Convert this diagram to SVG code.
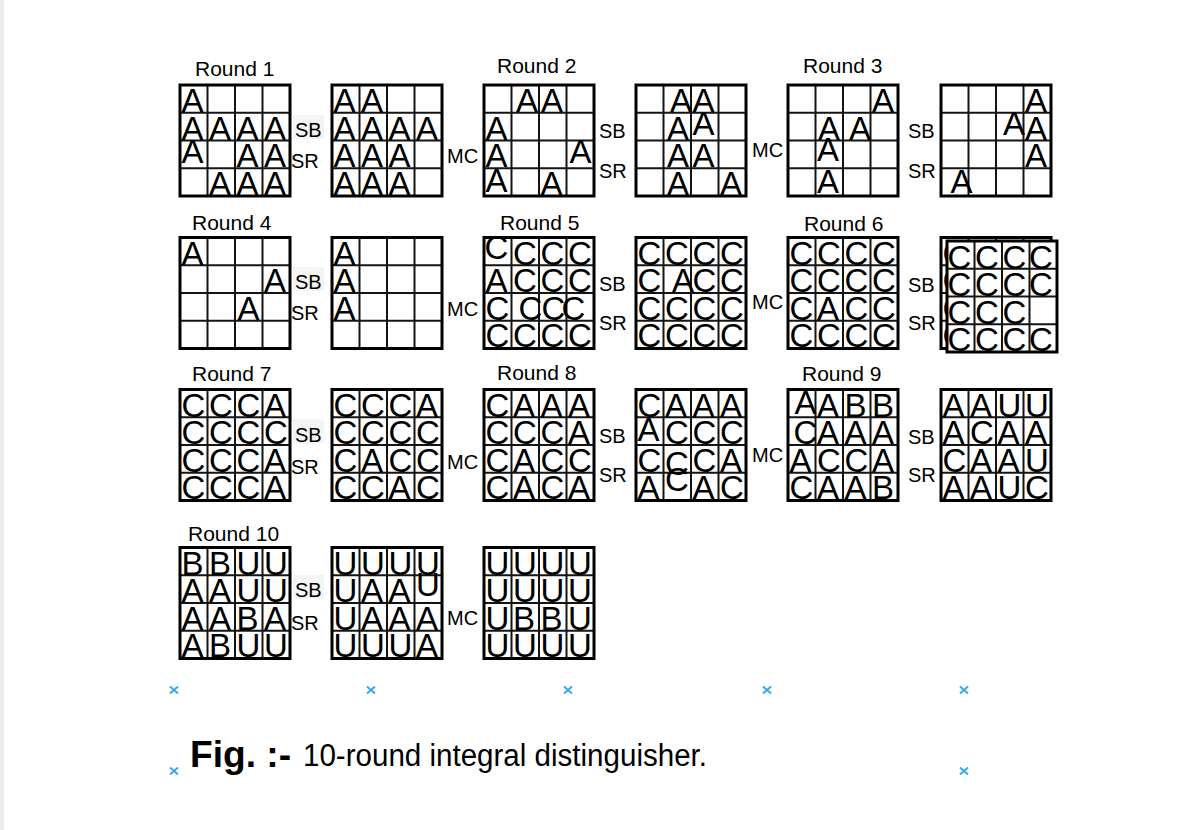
<svg xmlns="http://www.w3.org/2000/svg" xmlns:xlink="http://www.w3.org/1999/xlink" width="1190" height="830" viewBox="0 0 1190 830">
<style>
text{font-family:"Liberation Sans",Arial,sans-serif;fill:#000}
.L{font-size:33px}
.lab{font-size:20px}
.rnd{font-size:21px}
.sbbg{fill:#f4f4f4}
.mark{stroke:#35aae3;stroke-width:2;fill:none}
</style>
<defs>
<g id="grid">
<path d="M27.5 0V111M55 0V111M82.5 0V111M0 27.75H110M0 55.5H110M0 83.25H110" stroke="#141414" stroke-width="2" fill="none"/>
<rect x="0" y="0" width="110" height="111" fill="none" stroke="#000" stroke-width="3"/>
</g>
</defs>
<rect x="0" y="0" width="1190" height="830" fill="#fff"/>
<rect x="0" y="0" width="4" height="830" fill="#ececec"/>

<g id="round-labels">
<text class="rnd" x="195" y="76">Round 1</text>
<text class="rnd" x="497" y="73">Round 2</text>
<text class="rnd" x="803" y="73">Round 3</text>
<text class="rnd" x="192" y="230">Round 4</text>
<text class="rnd" x="500" y="230">Round 5</text>
<text class="rnd" x="804" y="231">Round 6</text>
<text class="rnd" x="192" y="381">Round 7</text>
<text class="rnd" x="497" y="380">Round 8</text>
<text class="rnd" x="802" y="381">Round 9</text>
<text class="rnd" x="188" y="541">Round 10</text>
</g>

<g id="connectors">
<rect class="sbbg" x="293" y="115" width="31" height="24"/>
<rect class="sbbg" x="293" y="267" width="31" height="24"/>
<rect class="sbbg" x="293" y="419.5" width="31" height="24"/>
<rect class="sbbg" x="293" y="575" width="31" height="24"/>
<text class="lab" x="295" y="137">SB</text><text class="lab" x="291" y="167.5">SR</text>
<text class="lab" x="447" y="163">MC</text>
<text class="lab" x="599" y="138">SB</text><text class="lab" x="599" y="178">SR</text>
<text class="lab" x="752" y="157">MC</text>
<text class="lab" x="908" y="138">SB</text><text class="lab" x="908" y="178">SR</text>

<text class="lab" x="295" y="289">SB</text><text class="lab" x="291" y="320">SR</text>
<text class="lab" x="447" y="315.5">MC</text>
<text class="lab" x="599" y="291">SB</text><text class="lab" x="599" y="330">SR</text>
<text class="lab" x="752" y="308.5">MC</text>
<text class="lab" x="908" y="291.5">SB</text><text class="lab" x="908" y="330">SR</text>

<text class="lab" x="295" y="441.5">SB</text><text class="lab" x="291" y="473.5">SR</text>
<text class="lab" x="447" y="468.5">MC</text>
<text class="lab" x="599" y="443">SB</text><text class="lab" x="599" y="481.5">SR</text>
<text class="lab" x="752" y="462">MC</text>
<text class="lab" x="908" y="443.5">SB</text><text class="lab" x="908" y="482">SR</text>

<text class="lab" x="295" y="597">SB</text><text class="lab" x="291" y="629.5">SR</text>
<text class="lab" x="447" y="624.5">MC</text>
</g>

<!-- Row 1 -->
<g id="r1g1" transform="translate(180,85)">
<use xlink:href="#grid"/>
<text class="L" x="1.5" y="27">A</text>
<text class="L" x="1.5" y="54.5">A</text><text class="L" x="29" y="54.5">A</text><text class="L" x="56.5" y="54.5">A</text><text class="L" x="84" y="54.5">A</text>
<text class="L" x="1.5" y="78">A</text><text class="L" x="56.5" y="82">A</text><text class="L" x="84" y="82">A</text>
<text class="L" x="29" y="109.5">A</text><text class="L" x="56.5" y="109.5">A</text><text class="L" x="84" y="109.5">A</text>
</g>
<g id="r1g2" transform="translate(332,85)">
<use xlink:href="#grid"/>
<text class="L" x="1.5" y="27">A</text><text class="L" x="29" y="27">A</text>
<text class="L" x="1.5" y="54.5">A</text><text class="L" x="29" y="54.5">A</text><text class="L" x="56.5" y="54.5">A</text><text class="L" x="84" y="54.5">A</text>
<text class="L" x="1.5" y="82">A</text><text class="L" x="29" y="82">A</text><text class="L" x="56.5" y="82">A</text>
<text class="L" x="1.5" y="109.5">A</text><text class="L" x="29" y="109.5">A</text><text class="L" x="56.5" y="109.5">A</text>
</g>
<g id="r1g3" transform="translate(484,85)">
<use xlink:href="#grid"/>
<text class="L" x="32" y="27">A</text><text class="L" x="57" y="27">A</text>
<text class="L" x="1.5" y="54.5">A</text>
<text class="L" x="1.5" y="82">A</text><text class="L" x="85.5" y="78">A</text>
<text class="L" x="1.5" y="106.5">A</text><text class="L" x="56.5" y="109.5">A</text>
</g>
<g id="r1g4" transform="translate(636,85)">
<use xlink:href="#grid"/>
<text class="L" x="34" y="27">A</text><text class="L" x="56.5" y="27">A</text>
<text class="L" x="31" y="54.5">A</text><text class="L" x="56.5" y="49.5">A</text>
<text class="L" x="31" y="82">A</text><text class="L" x="56.5" y="82">A</text>
<text class="L" x="31" y="109.5">A</text><text class="L" x="84" y="109.5">A</text>
</g>
<g id="r1g5" transform="translate(788,85)">
<use xlink:href="#grid"/>
<text class="L" x="84" y="27">A</text>
<text class="L" x="30" y="54.5">A</text><text class="L" x="61" y="54.5">A</text>
<text class="L" x="29" y="76">A</text>
<text class="L" x="29" y="107.5">A</text>
</g>
<g id="r1g6" transform="translate(941,85)">
<use xlink:href="#grid"/>
<text class="L" x="84" y="27">A</text>
<text class="L" x="62" y="49.5">A</text><text class="L" x="84" y="54.5">A</text>
<text class="L" x="84" y="82">A</text>
<text class="L" x="9.5" y="107.5">A</text>
</g>

<!-- Row 2 -->
<g id="r2g1" transform="translate(180,237.5)">
<use xlink:href="#grid"/>
<text class="L" x="1.5" y="27">A</text>
<text class="L" x="84" y="54.5">A</text>
<text class="L" x="57.5" y="82">A</text>
</g>
<g id="r2g2" transform="translate(332,237.5)">
<use xlink:href="#grid"/>
<text class="L" x="1.5" y="27">A</text>
<text class="L" x="1.5" y="54.5">A</text>
<text class="L" x="1.5" y="82">A</text>
</g>
<g id="r2g3" transform="translate(484,237.5)">
<use xlink:href="#grid"/>
<text class="L" x="0.5" y="21">C</text><text class="L" x="29" y="27">C</text><text class="L" x="56.5" y="27">C</text><text class="L" x="84" y="27">C</text>
<text class="L" x="1.5" y="54.5">A</text><text class="L" x="29" y="54.5">C</text><text class="L" x="56.5" y="54.5">C</text><text class="L" x="84" y="54.5">C</text>
<text class="L" x="1.5" y="82">C</text><text class="L" x="34.5" y="82">C</text><text class="L" x="57.5" y="82">C</text><text class="L" x="77.5" y="82">C</text>
<text class="L" x="1.5" y="109.5">C</text><text class="L" x="29" y="109.5">C</text><text class="L" x="56.5" y="109.5">C</text><text class="L" x="84" y="109.5">C</text>
</g>
<g id="r2g4" transform="translate(636,237.5)">
<use xlink:href="#grid"/>
<text class="L" x="1.5" y="27">C</text><text class="L" x="29" y="27">C</text><text class="L" x="56.5" y="27">C</text><text class="L" x="84" y="27">C</text>
<text class="L" x="1.5" y="54.5">C</text><text class="L" x="36" y="54.5">A</text><text class="L" x="56.5" y="54.5">C</text><text class="L" x="84" y="54.5">C</text>
<text class="L" x="1.5" y="82">C</text><text class="L" x="29" y="82">C</text><text class="L" x="56.5" y="82">C</text><text class="L" x="84" y="82">C</text>
<text class="L" x="1.5" y="109.5">C</text><text class="L" x="29" y="109.5">C</text><text class="L" x="56.5" y="109.5">C</text><text class="L" x="84" y="109.5">C</text>
</g>
<g id="r2g5" transform="translate(788,237.5)">
<use xlink:href="#grid"/>
<text class="L" x="1.5" y="27">C</text><text class="L" x="29" y="27">C</text><text class="L" x="56.5" y="27">C</text><text class="L" x="84" y="27">C</text>
<text class="L" x="1.5" y="54.5">C</text><text class="L" x="29" y="54.5">C</text><text class="L" x="56.5" y="54.5">C</text><text class="L" x="84" y="54.5">C</text>
<text class="L" x="1.5" y="82">C</text><text class="L" x="29" y="82">A</text><text class="L" x="56.5" y="82">C</text><text class="L" x="84" y="82">C</text>
<text class="L" x="1.5" y="109.5">C</text><text class="L" x="29" y="109.5">C</text><text class="L" x="56.5" y="109.5">C</text><text class="L" x="84" y="109.5">C</text>
</g>
<g id="r2g6">
<g id="r2g6-back" transform="translate(941,237.5)">
<use xlink:href="#grid"/>
<text class="L" x="1.5" y="27">C</text>
<text class="L" x="1.5" y="54.5">C</text>
<text class="L" x="1.5" y="82">C</text>
<text class="L" x="1.5" y="109.5">C</text>
</g>
<g id="r2g6-front" transform="translate(947,241)">
<rect x="0" y="0" width="109" height="111" fill="#fff"/>
<use xlink:href="#grid"/>
<text class="L" x="0.5" y="27.5">C</text><text class="L" x="28" y="27.5">C</text><text class="L" x="55.5" y="27.5">C</text><text class="L" x="82" y="27.5">C</text>
<text class="L" x="0.5" y="55">C</text><text class="L" x="28" y="55">C</text><text class="L" x="55.5" y="55">C</text><text class="L" x="82" y="55">C</text>
<text class="L" x="0.5" y="82.5">C</text><text class="L" x="28" y="82.5">C</text><text class="L" x="55.5" y="82.5">C</text>
<text class="L" x="0.5" y="110">C</text><text class="L" x="28" y="110">C</text><text class="L" x="55.5" y="110">C</text><text class="L" x="82" y="110">C</text>
</g>
</g>

<!-- Row 3 -->
<g id="r3g1" transform="translate(180,389.5)">
<use xlink:href="#grid"/>
<text class="L" x="1.5" y="27">C</text><text class="L" x="29" y="27">C</text><text class="L" x="56.5" y="27">C</text><text class="L" x="84" y="27">A</text>
<text class="L" x="1.5" y="54.5">C</text><text class="L" x="29" y="54.5">C</text><text class="L" x="56.5" y="54.5">C</text><text class="L" x="84" y="54.5">C</text>
<text class="L" x="1.5" y="82">C</text><text class="L" x="29" y="82">C</text><text class="L" x="56.5" y="82">C</text><text class="L" x="84" y="82">A</text>
<text class="L" x="1.5" y="109.5">C</text><text class="L" x="29" y="109.5">C</text><text class="L" x="56.5" y="109.5">C</text><text class="L" x="84" y="109.5">A</text>
</g>
<g id="r3g2" transform="translate(332,389.5)">
<use xlink:href="#grid"/>
<text class="L" x="1.5" y="27">C</text><text class="L" x="29" y="27">C</text><text class="L" x="56.5" y="27">C</text><text class="L" x="84" y="27">A</text>
<text class="L" x="1.5" y="54.5">C</text><text class="L" x="29" y="54.5">C</text><text class="L" x="56.5" y="54.5">C</text><text class="L" x="84" y="54.5">C</text>
<text class="L" x="1.5" y="82">C</text><text class="L" x="29" y="82">A</text><text class="L" x="56.5" y="82">C</text><text class="L" x="84" y="82">C</text>
<text class="L" x="1.5" y="109.5">C</text><text class="L" x="29" y="109.5">C</text><text class="L" x="56.5" y="109.5">A</text><text class="L" x="84" y="109.5">C</text>
</g>
<g id="r3g3" transform="translate(484,389.5)">
<use xlink:href="#grid"/>
<text class="L" x="1.5" y="27">C</text><text class="L" x="29" y="27">A</text><text class="L" x="56.5" y="27">A</text><text class="L" x="84" y="27">A</text>
<text class="L" x="1.5" y="54.5">C</text><text class="L" x="29" y="54.5">C</text><text class="L" x="56.5" y="54.5">C</text><text class="L" x="84" y="54.5">A</text>
<text class="L" x="1.5" y="82">C</text><text class="L" x="29" y="82">A</text><text class="L" x="56.5" y="82">C</text><text class="L" x="84" y="82">C</text>
<text class="L" x="1.5" y="109.5">C</text><text class="L" x="29" y="109.5">A</text><text class="L" x="56.5" y="109.5">C</text><text class="L" x="84" y="109.5">A</text>
</g>
<g id="r3g4" transform="translate(636,389.5)">
<use xlink:href="#grid"/>
<text class="L" x="1.5" y="27">C</text><text class="L" x="29" y="27">A</text><text class="L" x="56.5" y="27">A</text><text class="L" x="84" y="27">A</text>
<text class="L" x="1.5" y="51.5">A</text><text class="L" x="29" y="54.5">C</text><text class="L" x="56.5" y="54.5">C</text><text class="L" x="84" y="54.5">C</text>
<text class="L" x="1.5" y="82">C</text><text class="L" x="29" y="85">C</text><text class="L" x="56.5" y="82">C</text><text class="L" x="84" y="82">A</text>
<text class="L" x="1.5" y="109.5">A</text><text class="L" x="29" y="101.5">C</text><text class="L" x="56.5" y="109.5">A</text><text class="L" x="84" y="109.5">C</text>
</g>
<g id="r3g5" transform="translate(788,389.5)">
<use xlink:href="#grid"/>
<text class="L" x="6.5" y="24">A</text><text class="L" x="29" y="27">A</text><text class="L" x="56.5" y="27">B</text><text class="L" x="84" y="27">B</text>
<text class="L" x="5.5" y="54.5">C</text><text class="L" x="29" y="54.5">A</text><text class="L" x="56.5" y="54.5">A</text><text class="L" x="84" y="54.5">A</text>
<text class="L" x="1.5" y="82">A</text><text class="L" x="29" y="82">C</text><text class="L" x="56.5" y="82">C</text><text class="L" x="84" y="82">A</text>
<text class="L" x="1.5" y="109.5">C</text><text class="L" x="29" y="109.5">A</text><text class="L" x="56.5" y="109.5">A</text><text class="L" x="84" y="109.5">B</text>
</g>
<g id="r3g6" transform="translate(941,389.5)">
<use xlink:href="#grid"/>
<text class="L" x="1.5" y="27">A</text><text class="L" x="29" y="27">A</text><text class="L" x="56.5" y="27">U</text><text class="L" x="84" y="27">U</text>
<text class="L" x="1.5" y="54.5">A</text><text class="L" x="29" y="54.5">C</text><text class="L" x="56.5" y="54.5">A</text><text class="L" x="84" y="54.5">A</text>
<text class="L" x="1.5" y="82">C</text><text class="L" x="29" y="82">A</text><text class="L" x="56.5" y="82">A</text><text class="L" x="84" y="82">U</text>
<text class="L" x="1.5" y="109.5">A</text><text class="L" x="29" y="109.5">A</text><text class="L" x="56.5" y="109.5">U</text><text class="L" x="84" y="109.5">C</text>
</g>

<!-- Row 4 -->
<g id="r4g1" transform="translate(180,547.5)">
<use xlink:href="#grid"/>
<text class="L" x="1.5" y="27">B</text><text class="L" x="29" y="27">B</text><text class="L" x="56.5" y="27">U</text><text class="L" x="84" y="27">U</text>
<text class="L" x="1.5" y="54.5">A</text><text class="L" x="29" y="54.5">A</text><text class="L" x="56.5" y="54.5">U</text><text class="L" x="84" y="54.5">U</text>
<text class="L" x="1.5" y="82">A</text><text class="L" x="29" y="82">A</text><text class="L" x="56.5" y="82">B</text><text class="L" x="84" y="82">A</text>
<text class="L" x="1.5" y="109.5">A</text><text class="L" x="29" y="109.5">B</text><text class="L" x="56.5" y="109.5">U</text><text class="L" x="84" y="109.5">U</text>
</g>
<g id="r4g2" transform="translate(332,547.5)">
<use xlink:href="#grid"/>
<text class="L" x="1.5" y="27">U</text><text class="L" x="29" y="27">U</text><text class="L" x="56.5" y="27">U</text><text class="L" x="84" y="27">U</text>
<text class="L" x="1.5" y="54.5">U</text><text class="L" x="29" y="54.5">A</text><text class="L" x="56.5" y="54.5">A</text><text class="L" x="84" y="48.5">U</text>
<text class="L" x="1.5" y="82">U</text><text class="L" x="29" y="82">A</text><text class="L" x="56.5" y="82">A</text><text class="L" x="84" y="82">A</text>
<text class="L" x="1.5" y="109.5">U</text><text class="L" x="29" y="109.5">U</text><text class="L" x="56.5" y="109.5">U</text><text class="L" x="84" y="109.5">A</text>
</g>
<g id="r4g3" transform="translate(484,547.5)">
<use xlink:href="#grid"/>
<text class="L" x="1.5" y="27">U</text><text class="L" x="29" y="27">U</text><text class="L" x="56.5" y="27">U</text><text class="L" x="84" y="27">U</text>
<text class="L" x="1.5" y="54.5">U</text><text class="L" x="29" y="54.5">U</text><text class="L" x="56.5" y="54.5">U</text><text class="L" x="84" y="54.5">U</text>
<text class="L" x="1.5" y="82">U</text><text class="L" x="29" y="82">B</text><text class="L" x="56.5" y="82">B</text><text class="L" x="84" y="82">U</text>
<text class="L" x="1.5" y="109.5">U</text><text class="L" x="29" y="109.5">U</text><text class="L" x="56.5" y="109.5">U</text><text class="L" x="84" y="109.5">U</text>
</g>

<g id="markers">
<path class="mark" d="M170 686.5l8 7M178 686.5l-8 7"/>
<path class="mark" d="M367 686.5l8 7M375 686.5l-8 7"/>
<path class="mark" d="M564 686.5l8 7M572 686.5l-8 7"/>
<path class="mark" d="M763 686.5l8 7M771 686.5l-8 7"/>
<path class="mark" d="M960 686.5l8 7M968 686.5l-8 7"/>
<path class="mark" d="M170 767.5l8 7M178 767.5l-8 7"/>
<path class="mark" d="M960 767.5l8 7M968 767.5l-8 7"/>
</g>

<g id="caption">
<text x="190" y="767" font-size="36" font-weight="bold" textLength="101" lengthAdjust="spacingAndGlyphs">Fig. :-</text>
<text x="303" y="766" font-size="31" textLength="404" lengthAdjust="spacingAndGlyphs">10-round integral distinguisher.</text>
</g>
</svg>
